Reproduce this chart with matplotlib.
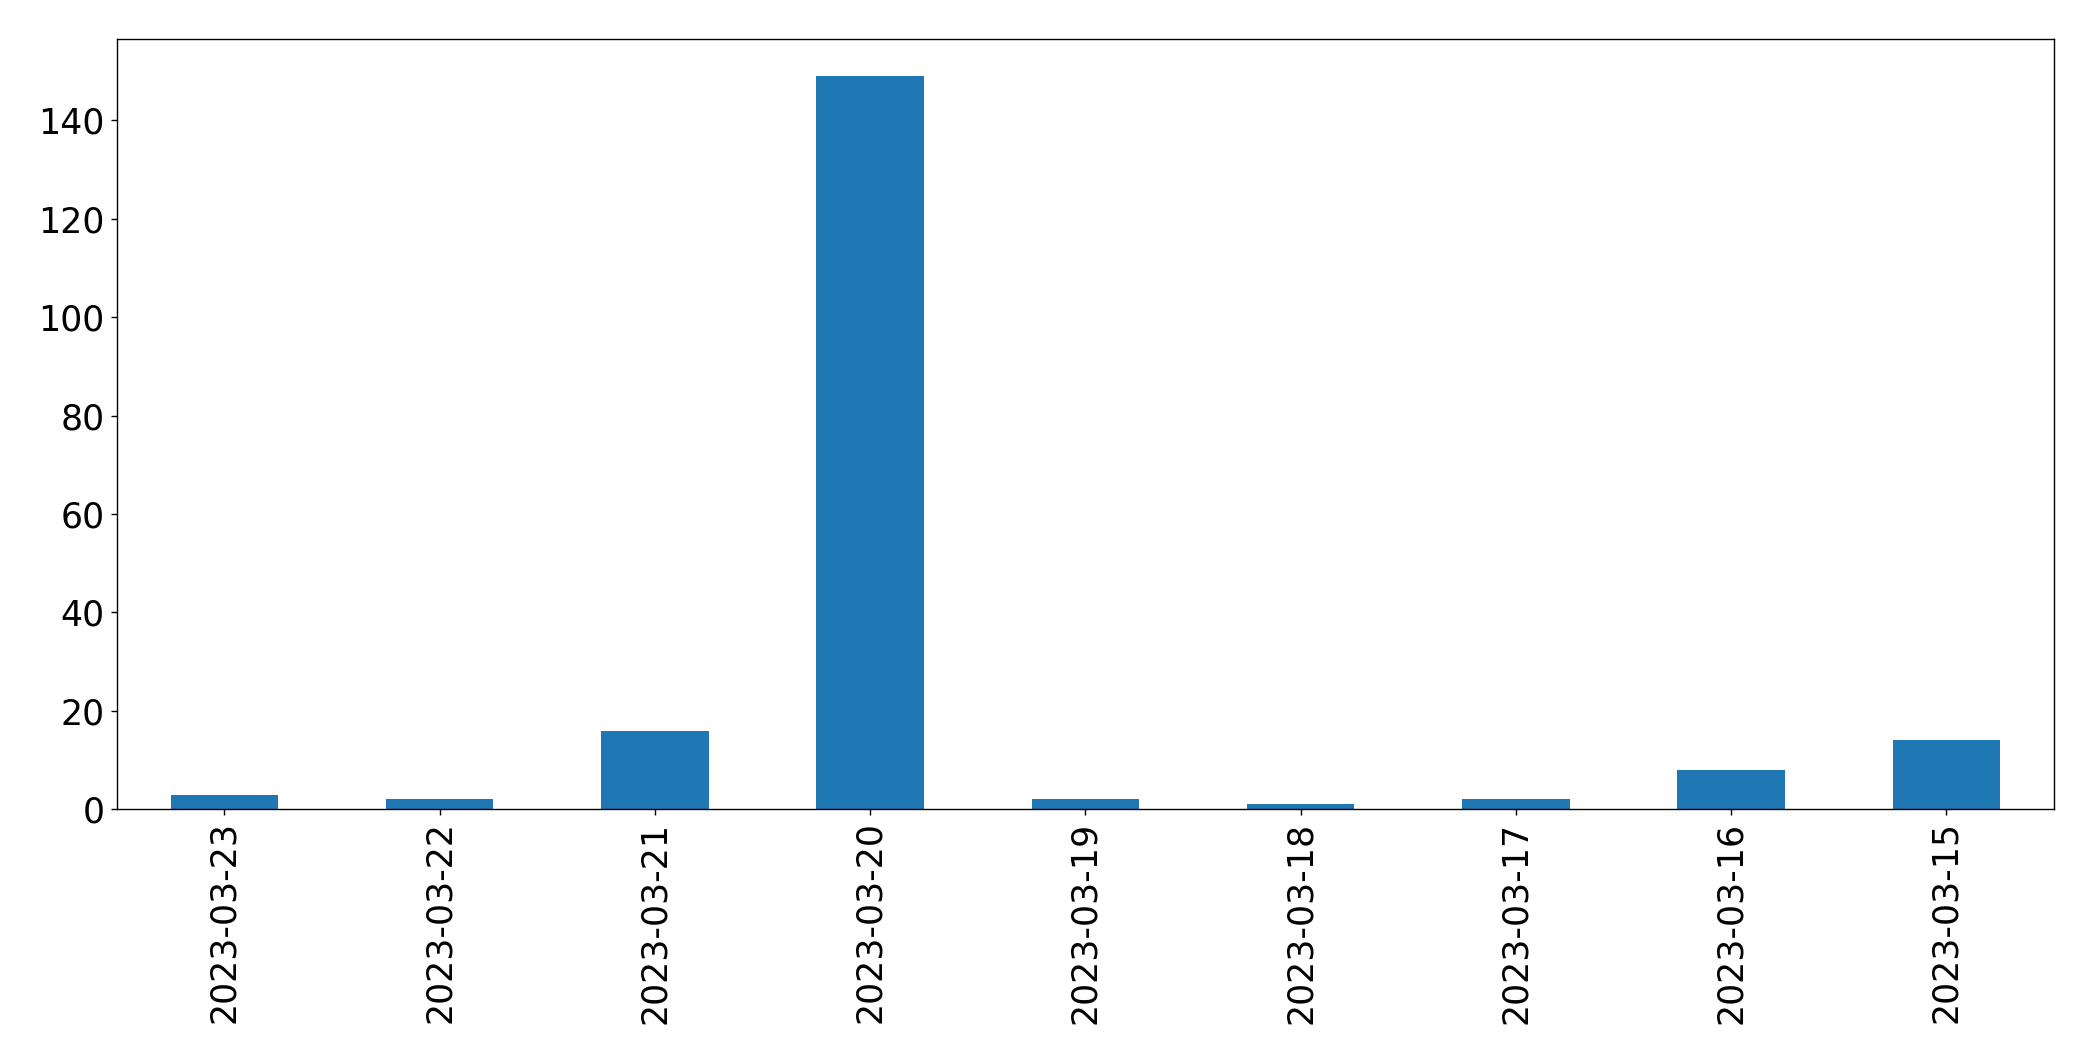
import matplotlib
matplotlib.use("Agg")
import matplotlib.pyplot as plt
import numpy as np

# Data
dates = ["2023-03-23", "2023-03-22", "2023-03-21", "2023-03-20", "2023-03-19",
         "2023-03-18", "2023-03-17", "2023-03-16", "2023-03-15"]
counts = [3, 2, 16, 149, 2, 1, 2, 8, 14]

fig = plt.figure(figsize=(2093 / 125, 1061 / 125), dpi=125)
ax = fig.add_axes([0.0558, 0.2372, 0.9256, 0.7257])

x = np.arange(len(dates))
ax.bar(x, counts, width=0.5, color="#1f77b4")
ax.set_xlim(-0.5, len(dates) - 0.5)
ax.set_ylim(0, max(counts) * 1.05)
ax.set_xticks(x)
ax.set_xticklabels(dates, rotation=90)
ax.tick_params(axis="both", labelsize=20)

fig.savefig("out.png", dpi=125)
plt.close(fig)
